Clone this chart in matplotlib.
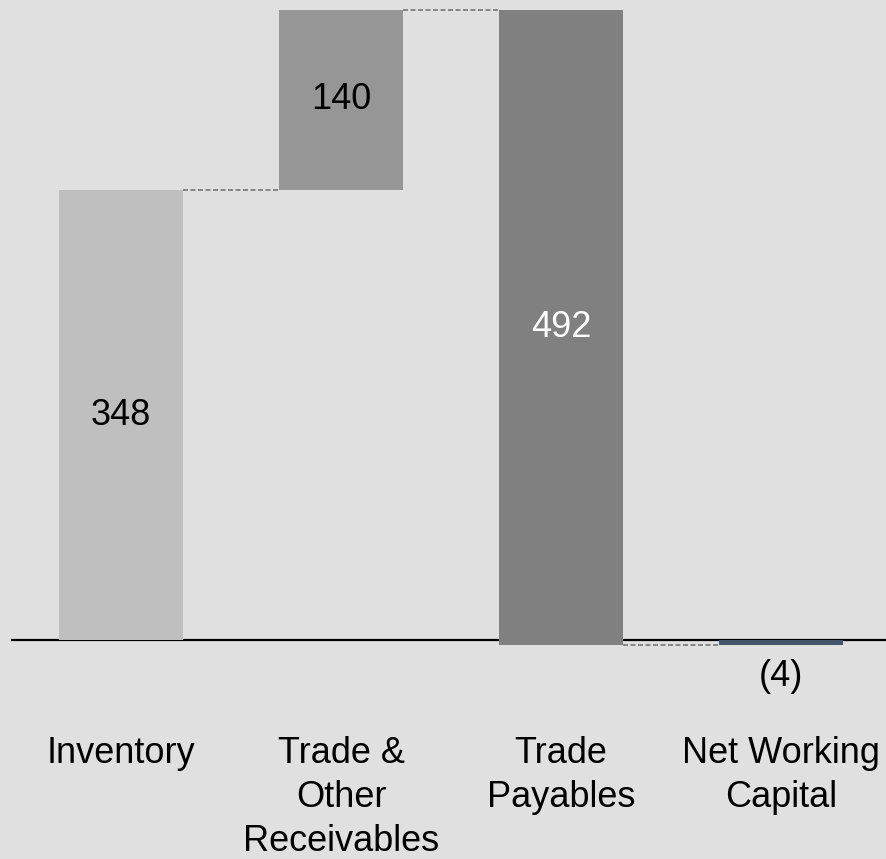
import matplotlib
matplotlib.use("Agg")
import matplotlib.pyplot as plt
import numpy as np

categories = ["Inventory", "Trade &\nOther\nReceivables", "Trade\nPayables", "Net Working\nCapital"]
changes = [348, 140, -492]
bar_colors = ["#bfbfbf", "#969696", "#808080", "#44546a"]
label_colors = ["black", "black", "white", "black"]

plt.rcParams['font.family'] = ['Liberation Sans', 'DejaVu Sans']

total = sum(changes)
bottoms = [0] + list(np.cumsum(changes)[:-1]) + [0]
heights = changes + [total]

W, H = 886, 859
fig = plt.figure(figsize=(W / 100, H / 100), dpi=100)
fig.patch.set_facecolor("#e0e0e0")
scale = 630.5 / 488.0
ax = fig.add_axes([11 / W, 0, 880 / W, 1])
ax.set_facecolor("#e0e0e0")
ax.set_xlim(-0.5, 3.5)
ax.set_ylim(-(H - 640) / scale, 640 / scale)
for s in ax.spines.values():
    s.set_visible(False)
ax.set_xticks([])
ax.set_yticks([])

x = np.arange(len(categories))
width = 124 / 220
ax.axhline(0, color="black", lw=1.6, zorder=1)
ax.bar(x, heights, bottom=bottoms, width=width, color=bar_colors, zorder=2)

# connectors
tops = [b + h for b, h in zip(bottoms, heights)]
for i in range(len(categories) - 1):
    level = tops[i]
    ax.plot([x[i] + width / 2, x[i + 1] - width / 2], [level, level],
            color="#767676", lw=1.2, linestyle=(0, (3, 1.5)), zorder=3)

# value labels
def fmt(v):
    return f"({abs(v)})" if v < 0 and v == total else f"{abs(v)}"

for i, (b, h) in enumerate(zip(bottoms, heights)):
    if i == len(categories) - 1:
        ax.text(x[i], -28, fmt(total), ha="center", va="center", fontsize=26,
                color=label_colors[i])
    else:
        ax.text(x[i], b + h / 2, fmt(h), ha="center", va="center", fontsize=26,
                color=label_colors[i])

for i, c in enumerate(categories):
    ax.text(x[i], -74.3, c, ha="center", va="top", fontsize=26,
            color="black", linespacing=1.34)

fig.savefig("out.png", dpi=100, facecolor=fig.get_facecolor())
